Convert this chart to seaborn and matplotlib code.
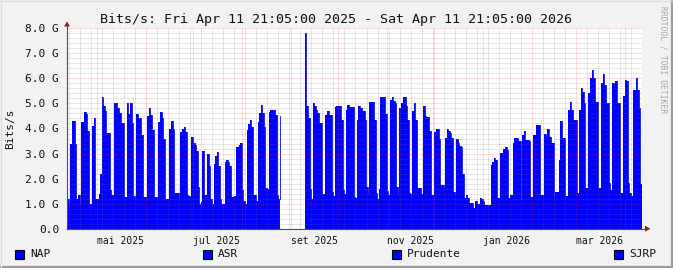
import numpy as np
import pandas as pd
import matplotlib
matplotlib.use("Agg")
import matplotlib.pyplot as plt
from matplotlib.patches import Rectangle, Polygon
from matplotlib.lines import Line2D
import seaborn as sns

nan = float("nan")

# ---------------- data (daily samples, Gbit/s) ----------------
start_time = "2025-04-11 21:05"
bits_g = [
    1.2, 1.0, 3.4, 4.3, 4.3, 3.4, 1.2, 1.35, 1.0, 4.25,
    4.25, 4.65, 4.57, 3.9, 1.0, 1.0, 4.1, 4.4, 1.17, 1.17,
    1.4, 2.2, 5.24, 4.9, 4.7, 3.83, 3.83, 1.54, 1.35, 1.35,
    5.0, 5.03, 4.8, 4.6, 4.2, 4.2, 1.28, 1.28, 5.0, 4.58,
    5.0, 4.2, 1.3, 1.21, 4.58, 4.41, 4.41, 3.74, 1.28, 1.28,
    1.28, 4.5, 4.8, 4.54, 3.94, 1.28, 1.28, 1.28, 4.27, 4.65,
    4.4, 3.6, 1.2, 1.2, 1.2, 4.0, 4.3, 4.0, 1.41, 1.41,
    1.41, 1.2, 3.87, 3.97, 4.05, 3.87, 1.35, 1.3, 1.28, 3.65,
    3.43, 3.34, 3.1, 1.68, 1.0, 1.05, 3.1, 1.35, 1.35, 3.0,
    2.5, 1.2, 1.0, 2.6, 2.9, 3.05, 2.5, 1.2, 1.0, 1.0,
    2.67, 2.74, 2.67, 2.5, 1.28, 1.28, 1.3, 3.27, 3.27, 3.34,
    3.43, 1.54, 1.1, 1.0, 3.94, 4.17, 4.34, 4.07, 1.35, 1.35,
    1.1, 4.27, 4.6, 4.94, 4.6, 4.07, 1.61, 1.6, 4.67, 4.74,
    4.74, 4.74, 4.54, 1.35, 1.2, 4.5, nan, nan, nan, nan,
    nan, nan, nan, nan, nan, nan, nan, nan, nan, nan,
    nan, 7.8, 4.9, 4.4, 1.6, 1.2, 5.0, 4.9, 4.74, 4.6,
    4.2, 4.2, 1.4, 1.37, 4.54, 4.71, 4.54, 4.54, 1.48, 1.3,
    4.84, 4.9, 4.9, 4.9, 4.34, 1.54, 1.37, 4.74, 4.94, 4.87,
    4.87, 4.87, 1.28, 1.21, 4.34, 4.9, 4.8, 4.71, 4.71, 4.34,
    1.68, 1.44, 5.04, 5.04, 5.04, 4.34, 1.41, 1.2, 1.6, 5.27,
    5.27, 5.27, 4.58, 1.5, 1.35, 5.14, 5.27, 5.1, 5.0, 1.68,
    1.35, 4.8, 5.0, 5.27, 5.27, 4.9, 4.34, 1.41, 1.38, 4.7,
    5.0, 4.34, 1.61, 1.61, 1.61, 1.37, 4.9, 4.5, 4.47, 4.47,
    3.9, 1.35, 1.35, 3.85, 3.98, 3.98, 3.58, 1.74, 1.74, 1.65,
    3.61, 3.97, 3.9, 3.81, 3.61, 1.48, 1.4, 3.57, 3.41, 3.3,
    3.25, 2.2, 1.21, 1.35, 1.24, 1.04, 1.04, 1.04, 0.84, 1.1,
    1.0, 1.0, 1.21, 1.19, 1.1, 0.95, 0.94, 0.9, 0.95, 2.54,
    2.65, 2.81, 2.75, 1.21, 1.21, 3.03, 3.03, 3.2, 3.25, 3.14,
    1.21, 1.35, 1.35, 3.43, 3.61, 3.61, 3.51, 3.5, 1.15, 3.74,
    3.9, 3.54, 3.54, 3.5, 1.28, 1.25, 3.74, 3.74, 4.14, 4.14,
    1.35, 1.35, 1.3, 3.78, 3.65, 3.98, 3.67, 3.41, 3.41, 1.25,
    1.48, 1.48, 2.74, 4.3, 3.61, 3.61, 1.3, 1.3, 4.74, 5.05,
    4.74, 4.34, 4.34, 4.34, 1.41, 4.74, 5.6, 5.47, 5.0, 1.61,
    1.61, 5.4, 6.0, 6.34, 6.0, 5.07, 5.07, 1.61, 1.61, 5.8,
    6.18, 5.74, 5.0, 5.0, 1.81, 1.54, 5.83, 5.74, 5.91, 5.0,
    5.0, 1.41, 1.41, 5.3, 5.94, 5.91, 1.81, 1.41, 1.3, 5.54,
    5.54, 6.0, 5.54, 4.8, 1.8,
]
legend_names = ["NAP", "ASR", "Prudente", "SJRP"]
y_ticks = [0, 1, 2, 3, 4, 5, 6, 7, 8]
y_labels = ["0.0", "1.0 G", "2.0 G", "3.0 G", "4.0 G", "5.0 G", "6.0 G", "7.0 G", "8.0 G"]
x_label_dates = ["2025-05-01", "2025-07-01", "2025-09-01", "2025-11-01", "2026-01-01", "2026-03-01"]
x_labels = ["mai 2025", "jul 2025", "set 2025", "nov 2025", "jan 2026", "mar 2026"]
title = "Bits/s: Fri Apr 11 21:05:00 2025 - Sat Apr 11 21:05:00 2026"
y_title = "Bits/s"
watermark = "RRDTOOL / TOBI OETIKER"

# ---------------- styling ----------------
sns.set_style("white")
plt.rcParams['font.family'] = ['DejaVu Sans Mono', 'DejaVu Sans']

W, H = 673, 268
BG = '#F2F2F2'
BLUE = '#0000FF'
AXC = '#505050'
ARROW = '#902020'

fig = plt.figure(figsize=(W / 100, H / 100), dpi=100, facecolor=BG)


def fx(x):
    return x / W


def fy(y):
    return 1 - y / H


ax = fig.add_axes([fx(67), fy(228.7), 575 / W, 200.4 / H])
ax.set_facecolor('white')

vals = np.array(bits_g, dtype=float)
edges = pd.date_range(start_time, periods=len(vals) + 1, freq='D')
y_ext = np.append(vals, vals[-1])

ax.fill_between(edges, y_ext, step='post', color=BLUE, lw=0, zorder=2)

# outline with seaborn for each contiguous segment
df = pd.DataFrame({"t": edges, "v": y_ext})
valid = df["v"].notna()
seg_id = (~valid).cumsum()
for _, seg in df[valid].groupby(seg_id[valid]):
    sns.lineplot(data=seg, x="t", y="v", ax=ax, color=BLUE, lw=0.6,
                 drawstyle='steps-post', estimator=None, zorder=2.5)

ax.set_xlim(edges[0], edges[-1])
ax.set_ylim(0, 8)
ax.set_xlabel("")
ax.set_ylabel("")

# grid lines (drawn on top of the area like rrdtool)
dot = (0, (1, 1))
MINOR = dict(color='#707070', lw=0.72, ls=dot, alpha=0.33, zorder=3)
MAJOR = dict(color='#FF2020', lw=0.72, ls=dot, alpha=0.32, zorder=3)
for v in np.arange(0.2, 8.0, 0.2):
    if abs(v - round(v)) > 1e-6:
        ax.axhline(v, **MINOR)
for v in y_ticks[1:]:
    ax.axhline(v, **MAJOR)

month_starts = pd.date_range("2025-05-01", "2026-04-01", freq='MS')
sundays = pd.date_range("2025-04-13", "2026-04-11", freq='W-SUN')
for d in sundays:
    if d.day != 1:
        ax.axvline(d, **MINOR)
for d in month_starts:
    ax.axvline(d, **MAJOR)

# ticks
ax.set_yticks(y_ticks)
ax.set_yticklabels(y_labels)
ax.set_yticks(np.arange(0, 8.01, 0.2), minor=True)
xt = list(month_starts)
lab_map = dict(zip(pd.to_datetime(x_label_dates), x_labels))
ax.set_xticks(xt)
ax.set_xticklabels([lab_map.get(d, "") for d in xt])
ax.set_xticks(list(sundays), minor=True)
for lbl in ax.get_xticklabels():
    lbl.set_ha('left')
ax.tick_params(axis='y', which='major', direction='out', length=2.5, width=0.7,
               color=AXC, labelsize=8, pad=3.2, labelcolor='#111111')
ax.tick_params(axis='y', which='minor', direction='out', length=1.5, width=0.6, color=AXC)
ax.tick_params(axis='x', which='major', direction='out', length=2.5, width=0.7,
               color=AXC, labelsize=7, pad=2.5, labelcolor='#111111')
ax.tick_params(axis='x', which='minor', direction='out', length=1.5, width=0.6, color=AXC)

for s in ['top', 'right']:
    ax.spines[s].set_visible(False)
for s in ['left', 'bottom']:
    ax.spines[s].set_color(AXC)
    ax.spines[s].set_linewidth(0.8)
    ax.spines[s].set_zorder(4)

# axis extensions and arrows
fig.add_artist(Line2D([fx(67), fx(67)], [fy(28.3), fy(26)], color=AXC, lw=0.8))
fig.add_artist(Line2D([fx(642), fx(645)], [fy(228.7), fy(228.7)], color=AXC, lw=0.8))
fig.add_artist(Polygon([(fx(64), fy(26.5)), (fx(70), fy(26.5)), (fx(67), fy(21.5))],
                       closed=True, transform=fig.transFigure, color=ARROW, lw=0))
fig.add_artist(Polygon([(fx(645), fy(225.7)), (fx(645), fy(231.7)), (fx(650.5), fy(228.7))],
                       closed=True, transform=fig.transFigure, color=ARROW, lw=0))

# texts
fig.text(fx(336), fy(19), title, ha='center', va='center', fontsize=9.6, color='#111111')
fig.text(fx(10.5), fy(128.5), y_title, rotation=90, ha='center', va='center',
         fontsize=8, color='#111111')
fig.text(fx(663.5), fy(60), watermark, rotation=270, ha='center', va='center',
         fontsize=5.8, color='#A8A8A8')

# legend (manual, rrdtool style)
leg_sq_x = [15, 203, 391.5, 614]
for name, sx in zip(legend_names, leg_sq_x):
    fig.add_artist(Rectangle((fx(sx), fy(258.5)), 9 / W, 9 / H, transform=fig.transFigure,
                             facecolor=BLUE, edgecolor='black', lw=0.8))
    fig.text(fx(sx + 15), fy(254), name, ha='left', va='center', fontsize=8, color='#111111')

# frame shading
fig.add_artist(Line2D([0, 1], [fy(267), fy(267)], color='#9C9C9C', lw=1.6))
fig.add_artist(Line2D([fx(672), fx(672)], [0, 1], color='#9C9C9C', lw=1.6))
fig.add_artist(Line2D([0, 1], [fy(0.5), fy(0.5)], color='#DCDCDC', lw=1.0))
fig.add_artist(Line2D([fx(0.5), fx(0.5)], [0, 1], color='#DCDCDC', lw=1.0))

fig.savefig("out.png", dpi=100, facecolor=BG)
